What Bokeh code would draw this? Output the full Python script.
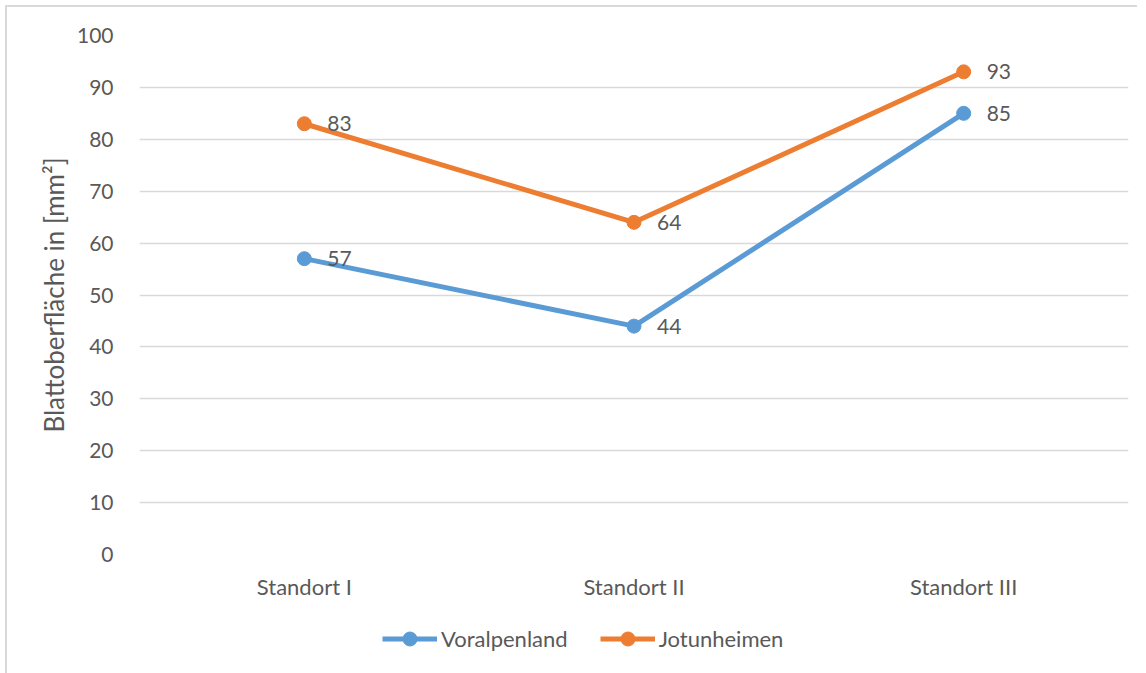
from bokeh.plotting import figure
from bokeh.layouts import column
from bokeh.models import (Range1d, FactorRange, Legend, LegendItem,
                          SingleIntervalTicker, ColumnDataSource)
from bokeh.core.properties import value
from bokeh.embed import file_html
from bokeh.resources import INLINE

# --- data ---
standorte = ["Standort I", "Standort II", "Standort III"]
voralpenland = [57, 44, 85]
jotunheimen = [83, 64, 93]
series_names = ["Voralpenland", "Jotunheimen"]
series_colors = ["#5B9BD5", "#ED7D31"]
y_title = "Blattoberfläche in [mm²]"

FONT = "Lato"
TEXT_COLOR = "#595959"
GRID_COLOR = "#d9d9d9"
FS_NUM = "21px"
FS_TXT = "22px"
W, H_CHART, H_LEGEND = 1146, 620, 53

p = figure(width=W, height=H_CHART, x_range=FactorRange(*standorte),
           y_range=Range1d(0, 100), output_backend="svg", toolbar_location=None,
           min_border_left=139, min_border_right=18, min_border_top=35,
           min_border_bottom=66)
p.outline_line_color = None
p.background_fill_color = "white"
p.border_fill_color = None

# axes
p.yaxis.ticker = SingleIntervalTicker(interval=10)
p.yaxis.axis_line_color = None
p.yaxis.major_tick_line_color = None
p.yaxis.minor_tick_line_color = None
p.yaxis.major_label_standoff = 20
p.yaxis.major_label_text_font = FONT
p.yaxis.major_label_text_font_size = FS_NUM
p.yaxis.major_label_text_color = TEXT_COLOR
p.yaxis.axis_label = y_title
p.yaxis.axis_label_text_font = FONT
p.yaxis.axis_label_text_font_size = "26px"
p.yaxis.axis_label_text_font_style = "normal"
p.yaxis.axis_label_text_color = TEXT_COLOR
p.yaxis.axis_label_standoff = 4

p.xaxis.axis_line_color = None
p.xaxis.major_tick_line_color = None
p.xaxis.minor_tick_line_color = None
p.xaxis.major_label_standoff = 12
p.xaxis.major_label_text_font = FONT
p.xaxis.major_label_text_font_size = FS_TXT
p.xaxis.major_label_text_color = TEXT_COLOR

p.xgrid.grid_line_color = None
p.ygrid.grid_line_color = GRID_COLOR
p.ygrid.grid_line_width = 1.5

# legend strip under the chart
lf = figure(width=W, height=H_LEGEND, output_backend="svg", toolbar_location=None,
            x_axis_location=None, y_axis_location=None,
            min_border_left=0, min_border_right=0, min_border_top=0,
            min_border_bottom=0)
lf.grid.grid_line_color = None
lf.outline_line_color = None
lf.background_fill_color = None
lf.border_fill_color = None

nan = float("nan")
items = []
for name, vals, color in zip(series_names, [voralpenland, jotunheimen], series_colors):
    src = ColumnDataSource(dict(x=standorte, y=vals, t=[str(v) for v in vals]))
    p.line("x", "y", source=src, line_color=color, line_width=5)
    p.scatter("x", "y", source=src, size=14, fill_color=color, line_color=color)
    p.text("x", "y", text="t", source=src, x_offset=23, text_baseline="middle",
           text_align="left", text_font=value(FONT), text_font_size=FS_NUM,
           text_color=TEXT_COLOR)
    # legend key renderers share the series styling (nothing drawn in the strip)
    key = ColumnDataSource(dict(x=[nan], y=[nan]))
    kl = lf.line("x", "y", source=key, line_color=color, line_width=5)
    ks = lf.scatter("x", "y", source=key, fill_color=color, line_color=color)
    items.append(LegendItem(label=name, renderers=[kl, ks]))

legend = Legend(items=items, orientation="horizontal", location=(243, 17),
                glyph_width=55, glyph_height=35, label_standoff=4, spacing=32,
                label_text_font=FONT, label_text_font_size=FS_TXT,
                label_text_color=TEXT_COLOR, background_fill_alpha=0,
                border_line_color=None, padding=0, margin=0)
lf.add_layout(legend, "center")

# chart area border: top and left edges
edge = f"linear-gradient({GRID_COLOR}, {GRID_COLOR})"
page = column(p, lf, spacing=0, styles={
    "background": f"{edge} 5px 5px / 1132px 2px no-repeat, "
                  f"{edge} 5px 5px / 2px 100% no-repeat, white",
})

open("out.html", "w").write(file_html(page, INLINE))
